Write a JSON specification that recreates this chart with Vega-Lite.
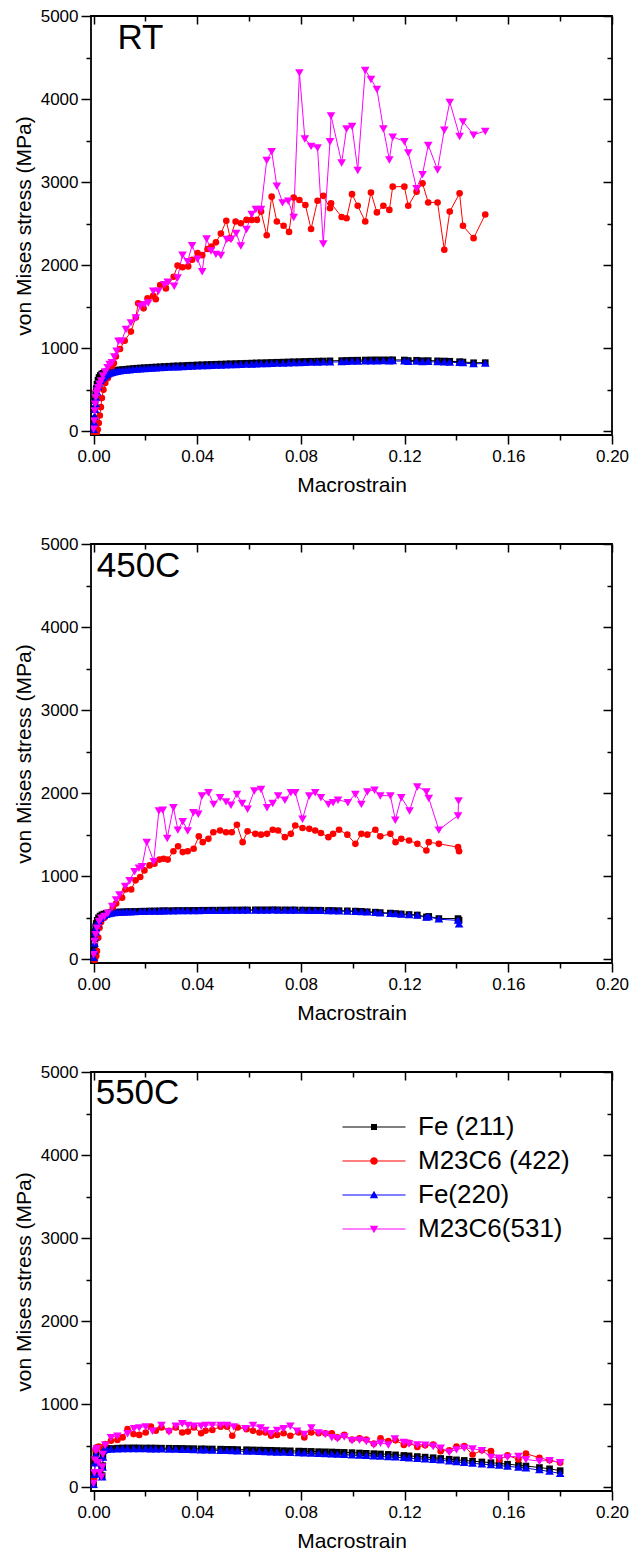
{
"$schema": "https://vega.github.io/schema/vega-lite/v6.json",
"background": "white",
"padding": {"left": 12, "top": 6, "right": 5, "bottom": 5},
"spacing": 38,
"config": {
 "font": "Liberation Sans",
 "view": {"stroke": "black", "strokeWidth": 1.8},
 "axis": {"grid": false, "domain": false, "tickColor": "black", "tickWidth": 1.5, "labelColor": "black", "titleColor": "black", "labelFont": "Liberation Sans", "titleFont": "Liberation Sans", "labelFontSize": 17, "titleFontSize": 21, "titleFontWeight": "normal", "labelFlush": false, "labelOverlap": false}
},
"resolve": {"scale": {"color": "independent", "shape": "independent"}},
"datasets": {
"rt": [
{"s":"Fe (211)","x":0,"y":20},{"s":"Fe (211)","x":0.0002,"y":150},{"s":"Fe (211)","x":0.0004,"y":270},{"s":"Fe (211)","x":0.0006,"y":370},{"s":"Fe (211)","x":0.0008,"y":450},{"s":"Fe (211)","x":0.001,"y":510},{"s":"Fe (211)","x":0.0013,"y":565},{"s":"Fe (211)","x":0.0017,"y":615},{"s":"Fe (211)","x":0.0021,"y":648},{"s":"Fe (211)","x":0.0026,"y":672},{"s":"Fe (211)","x":0.0031,"y":688},{"s":"Fe (211)","x":0.0036,"y":698},{"s":"Fe (211)","x":0.0042,"y":706},{"s":"Fe (211)","x":0.0049,"y":713},{"s":"Fe (211)","x":0.0056,"y":718},{"s":"Fe (211)","x":0.0064,"y":723},{"s":"Fe (211)","x":0.0072,"y":727},{"s":"Fe (211)","x":0.008,"y":731},{"s":"Fe (211)","x":0.009,"y":735},{"s":"Fe (211)","x":0.01,"y":739},{"s":"Fe (211)","x":0.0112,"y":743},{"s":"Fe (211)","x":0.0125,"y":747},{"s":"Fe (211)","x":0.0138,"y":751},{"s":"Fe (211)","x":0.0152,"y":755},{"s":"Fe (211)","x":0.0166,"y":759},{"s":"Fe (211)","x":0.018,"y":762},{"s":"Fe (211)","x":0.0195,"y":765},{"s":"Fe (211)","x":0.021,"y":768},{"s":"Fe (211)","x":0.0225,"y":771},{"s":"Fe (211)","x":0.024,"y":774},{"s":"Fe (211)","x":0.0257,"y":777},{"s":"Fe (211)","x":0.0273,"y":780},{"s":"Fe (211)","x":0.029,"y":783},{"s":"Fe (211)","x":0.0309,"y":786},{"s":"Fe (211)","x":0.0324,"y":788},{"s":"Fe (211)","x":0.0343,"y":791},{"s":"Fe (211)","x":0.0364,"y":794},{"s":"Fe (211)","x":0.038,"y":796},{"s":"Fe (211)","x":0.0401,"y":799},{"s":"Fe (211)","x":0.0419,"y":801},{"s":"Fe (211)","x":0.0438,"y":803},{"s":"Fe (211)","x":0.0455,"y":805},{"s":"Fe (211)","x":0.0472,"y":807},{"s":"Fe (211)","x":0.0491,"y":809},{"s":"Fe (211)","x":0.0512,"y":811},{"s":"Fe (211)","x":0.0528,"y":813},{"s":"Fe (211)","x":0.0549,"y":815},{"s":"Fe (211)","x":0.0568,"y":817},{"s":"Fe (211)","x":0.059,"y":819},{"s":"Fe (211)","x":0.061,"y":821},{"s":"Fe (211)","x":0.0628,"y":823},{"s":"Fe (211)","x":0.0646,"y":825},{"s":"Fe (211)","x":0.0668,"y":827},{"s":"Fe (211)","x":0.0687,"y":829},{"s":"Fe (211)","x":0.0707,"y":831},{"s":"Fe (211)","x":0.0731,"y":833},{"s":"Fe (211)","x":0.0753,"y":835},{"s":"Fe (211)","x":0.0772,"y":837},{"s":"Fe (211)","x":0.0794,"y":839},{"s":"Fe (211)","x":0.0815,"y":841},{"s":"Fe (211)","x":0.0839,"y":843},{"s":"Fe (211)","x":0.0864,"y":845},{"s":"Fe (211)","x":0.0886,"y":846},{"s":"Fe (211)","x":0.0912,"y":848},{"s":"Fe (211)","x":0.0957,"y":851},{"s":"Fe (211)","x":0.0976,"y":853},{"s":"Fe (211)","x":0.0997,"y":855},{"s":"Fe (211)","x":0.1019,"y":856},{"s":"Fe (211)","x":0.1048,"y":858},{"s":"Fe (211)","x":0.107,"y":859},{"s":"Fe (211)","x":0.1093,"y":860},{"s":"Fe (211)","x":0.1118,"y":860},{"s":"Fe (211)","x":0.1141,"y":859},{"s":"Fe (211)","x":0.1154,"y":860},{"s":"Fe (211)","x":0.1199,"y":858},{"s":"Fe (211)","x":0.1214,"y":852},{"s":"Fe (211)","x":0.1246,"y":855},{"s":"Fe (211)","x":0.1269,"y":850},{"s":"Fe (211)","x":0.1291,"y":851},{"s":"Fe (211)","x":0.1327,"y":848},{"s":"Fe (211)","x":0.1353,"y":846},{"s":"Fe (211)","x":0.1374,"y":843},{"s":"Fe (211)","x":0.1412,"y":838},{"s":"Fe (211)","x":0.1425,"y":834},{"s":"Fe (211)","x":0.1466,"y":825},{"s":"Fe (211)","x":0.1511,"y":826},
{"s":"M23C6 (422)","x":0,"y":-20},{"s":"M23C6 (422)","x":0.0006,"y":-40},{"s":"M23C6 (422)","x":0.0012,"y":-25},{"s":"M23C6 (422)","x":0.0016,"y":20},{"s":"M23C6 (422)","x":0.002,"y":100},{"s":"M23C6 (422)","x":0.0024,"y":190},{"s":"M23C6 (422)","x":0.0028,"y":290},{"s":"M23C6 (422)","x":0.0032,"y":400},{"s":"M23C6 (422)","x":0.0038,"y":500},{"s":"M23C6 (422)","x":0.0045,"y":580},{"s":"M23C6 (422)","x":0.0055,"y":640},{"s":"M23C6 (422)","x":0.0064,"y":700},{"s":"M23C6 (422)","x":0.0071,"y":780},{"s":"M23C6 (422)","x":0.0078,"y":820},{"s":"M23C6 (422)","x":0.0086,"y":900},{"s":"M23C6 (422)","x":0.0102,"y":990},{"s":"M23C6 (422)","x":0.012,"y":1090},{"s":"M23C6 (422)","x":0.0144,"y":1200},{"s":"M23C6 (422)","x":0.0163,"y":1370},{"s":"M23C6 (422)","x":0.0172,"y":1540},{"s":"M23C6 (422)","x":0.0193,"y":1480},{"s":"M23C6 (422)","x":0.0208,"y":1600},{"s":"M23C6 (422)","x":0.023,"y":1630},{"s":"M23C6 (422)","x":0.024,"y":1590},{"s":"M23C6 (422)","x":0.0257,"y":1760},{"s":"M23C6 (422)","x":0.0279,"y":1720},{"s":"M23C6 (422)","x":0.0309,"y":1860},{"s":"M23C6 (422)","x":0.0324,"y":1995},{"s":"M23C6 (422)","x":0.0343,"y":1975},{"s":"M23C6 (422)","x":0.0365,"y":1985},{"s":"M23C6 (422)","x":0.038,"y":2065},{"s":"M23C6 (422)","x":0.0401,"y":2145},{"s":"M23C6 (422)","x":0.0419,"y":2120},{"s":"M23C6 (422)","x":0.044,"y":2195},{"s":"M23C6 (422)","x":0.0455,"y":2225},{"s":"M23C6 (422)","x":0.0472,"y":2275},{"s":"M23C6 (422)","x":0.0491,"y":2380},{"s":"M23C6 (422)","x":0.0512,"y":2535},{"s":"M23C6 (422)","x":0.0527,"y":2325},{"s":"M23C6 (422)","x":0.0548,"y":2525},{"s":"M23C6 (422)","x":0.0568,"y":2505},{"s":"M23C6 (422)","x":0.059,"y":2545},{"s":"M23C6 (422)","x":0.061,"y":2545},{"s":"M23C6 (422)","x":0.063,"y":2545},{"s":"M23C6 (422)","x":0.0646,"y":2645},{"s":"M23C6 (422)","x":0.0668,"y":2360},{"s":"M23C6 (422)","x":0.0687,"y":2825},{"s":"M23C6 (422)","x":0.0707,"y":2525},{"s":"M23C6 (422)","x":0.0733,"y":2475},{"s":"M23C6 (422)","x":0.0754,"y":2400},{"s":"M23C6 (422)","x":0.0772,"y":2815},{"s":"M23C6 (422)","x":0.0794,"y":2785},{"s":"M23C6 (422)","x":0.0817,"y":2725},{"s":"M23C6 (422)","x":0.0839,"y":2435},{"s":"M23C6 (422)","x":0.0864,"y":2775},{"s":"M23C6 (422)","x":0.0886,"y":2835},{"s":"M23C6 (422)","x":0.0912,"y":2685},{"s":"M23C6 (422)","x":0.0916,"y":2745},{"s":"M23C6 (422)","x":0.0957,"y":2580},{"s":"M23C6 (422)","x":0.0976,"y":2565},{"s":"M23C6 (422)","x":0.0997,"y":2855},{"s":"M23C6 (422)","x":0.1019,"y":2715},{"s":"M23C6 (422)","x":0.1048,"y":2525},{"s":"M23C6 (422)","x":0.107,"y":2875},{"s":"M23C6 (422)","x":0.1093,"y":2635},{"s":"M23C6 (422)","x":0.1118,"y":2715},{"s":"M23C6 (422)","x":0.1141,"y":2665},{"s":"M23C6 (422)","x":0.1154,"y":2945},{"s":"M23C6 (422)","x":0.1199,"y":2945},{"s":"M23C6 (422)","x":0.1214,"y":2715},{"s":"M23C6 (422)","x":0.1246,"y":2885},{"s":"M23C6 (422)","x":0.1269,"y":2985},{"s":"M23C6 (422)","x":0.1291,"y":2755},{"s":"M23C6 (422)","x":0.1327,"y":2755},{"s":"M23C6 (422)","x":0.1353,"y":2185},{"s":"M23C6 (422)","x":0.1374,"y":2645},{"s":"M23C6 (422)","x":0.1412,"y":2865},{"s":"M23C6 (422)","x":0.1425,"y":2475},{"s":"M23C6 (422)","x":0.1466,"y":2325},{"s":"M23C6 (422)","x":0.1511,"y":2610},
{"s":"Fe(220)","x":0,"y":20},{"s":"Fe(220)","x":0.0002,"y":100},{"s":"Fe(220)","x":0.0004,"y":180},{"s":"Fe(220)","x":0.0006,"y":260},{"s":"Fe(220)","x":0.0008,"y":330},{"s":"Fe(220)","x":0.001,"y":400},{"s":"Fe(220)","x":0.0013,"y":470},{"s":"Fe(220)","x":0.0017,"y":535},{"s":"Fe(220)","x":0.0021,"y":575},{"s":"Fe(220)","x":0.0026,"y":605},{"s":"Fe(220)","x":0.0031,"y":628},{"s":"Fe(220)","x":0.0036,"y":645},{"s":"Fe(220)","x":0.0042,"y":660},{"s":"Fe(220)","x":0.0049,"y":675},{"s":"Fe(220)","x":0.0056,"y":687},{"s":"Fe(220)","x":0.0064,"y":697},{"s":"Fe(220)","x":0.0072,"y":705},{"s":"Fe(220)","x":0.008,"y":712},{"s":"Fe(220)","x":0.009,"y":718},{"s":"Fe(220)","x":0.01,"y":723},{"s":"Fe(220)","x":0.0112,"y":728},{"s":"Fe(220)","x":0.0125,"y":732},{"s":"Fe(220)","x":0.0138,"y":736},{"s":"Fe(220)","x":0.0152,"y":740},{"s":"Fe(220)","x":0.0166,"y":744},{"s":"Fe(220)","x":0.018,"y":747},{"s":"Fe(220)","x":0.0195,"y":750},{"s":"Fe(220)","x":0.021,"y":753},{"s":"Fe(220)","x":0.0225,"y":756},{"s":"Fe(220)","x":0.024,"y":759},{"s":"Fe(220)","x":0.0257,"y":762},{"s":"Fe(220)","x":0.0273,"y":765},{"s":"Fe(220)","x":0.029,"y":768},{"s":"Fe(220)","x":0.0309,"y":771},{"s":"Fe(220)","x":0.0324,"y":773},{"s":"Fe(220)","x":0.0343,"y":776},{"s":"Fe(220)","x":0.0364,"y":779},{"s":"Fe(220)","x":0.038,"y":781},{"s":"Fe(220)","x":0.0401,"y":784},{"s":"Fe(220)","x":0.0419,"y":786},{"s":"Fe(220)","x":0.0438,"y":788},{"s":"Fe(220)","x":0.0455,"y":790},{"s":"Fe(220)","x":0.0472,"y":792},{"s":"Fe(220)","x":0.0491,"y":794},{"s":"Fe(220)","x":0.0512,"y":796},{"s":"Fe(220)","x":0.0528,"y":798},{"s":"Fe(220)","x":0.0549,"y":800},{"s":"Fe(220)","x":0.0568,"y":802},{"s":"Fe(220)","x":0.059,"y":804},{"s":"Fe(220)","x":0.061,"y":806},{"s":"Fe(220)","x":0.0628,"y":808},{"s":"Fe(220)","x":0.0646,"y":810},{"s":"Fe(220)","x":0.0668,"y":812},{"s":"Fe(220)","x":0.0687,"y":814},{"s":"Fe(220)","x":0.0707,"y":816},{"s":"Fe(220)","x":0.0731,"y":818},{"s":"Fe(220)","x":0.0753,"y":820},{"s":"Fe(220)","x":0.0772,"y":822},{"s":"Fe(220)","x":0.0794,"y":824},{"s":"Fe(220)","x":0.0815,"y":826},{"s":"Fe(220)","x":0.0839,"y":828},{"s":"Fe(220)","x":0.0864,"y":830},{"s":"Fe(220)","x":0.0886,"y":831},{"s":"Fe(220)","x":0.0912,"y":833},{"s":"Fe(220)","x":0.0957,"y":836},{"s":"Fe(220)","x":0.0976,"y":838},{"s":"Fe(220)","x":0.0997,"y":840},{"s":"Fe(220)","x":0.1019,"y":841},{"s":"Fe(220)","x":0.1048,"y":843},{"s":"Fe(220)","x":0.107,"y":844},{"s":"Fe(220)","x":0.1093,"y":845},{"s":"Fe(220)","x":0.1118,"y":846},{"s":"Fe(220)","x":0.1141,"y":845},{"s":"Fe(220)","x":0.1154,"y":846},{"s":"Fe(220)","x":0.1199,"y":844},{"s":"Fe(220)","x":0.1214,"y":838},{"s":"Fe(220)","x":0.1246,"y":840},{"s":"Fe(220)","x":0.1269,"y":836},{"s":"Fe(220)","x":0.1291,"y":837},{"s":"Fe(220)","x":0.1327,"y":834},{"s":"Fe(220)","x":0.1353,"y":832},{"s":"Fe(220)","x":0.1374,"y":830},{"s":"Fe(220)","x":0.1412,"y":826},{"s":"Fe(220)","x":0.1425,"y":822},{"s":"Fe(220)","x":0.1466,"y":810},{"s":"Fe(220)","x":0.1511,"y":818},
{"s":"M23C6(531)","x":0,"y":30},{"s":"M23C6(531)","x":0.0002,"y":130},{"s":"M23C6(531)","x":0.0004,"y":250},{"s":"M23C6(531)","x":0.0006,"y":330},{"s":"M23C6(531)","x":0.0008,"y":410},{"s":"M23C6(531)","x":0.0011,"y":460},{"s":"M23C6(531)","x":0.0014,"y":490},{"s":"M23C6(531)","x":0.0018,"y":530},{"s":"M23C6(531)","x":0.0023,"y":570},{"s":"M23C6(531)","x":0.0029,"y":610},{"s":"M23C6(531)","x":0.0036,"y":670},{"s":"M23C6(531)","x":0.0045,"y":720},{"s":"M23C6(531)","x":0.0054,"y":770},{"s":"M23C6(531)","x":0.0062,"y":810},{"s":"M23C6(531)","x":0.0071,"y":830},{"s":"M23C6(531)","x":0.008,"y":900},{"s":"M23C6(531)","x":0.0089,"y":970},{"s":"M23C6(531)","x":0.0096,"y":1090},{"s":"M23C6(531)","x":0.0108,"y":1090},{"s":"M23C6(531)","x":0.0125,"y":1230},{"s":"M23C6(531)","x":0.0144,"y":1310},{"s":"M23C6(531)","x":0.0163,"y":1370},{"s":"M23C6(531)","x":0.018,"y":1510},{"s":"M23C6(531)","x":0.0196,"y":1530},{"s":"M23C6(531)","x":0.0211,"y":1550},{"s":"M23C6(531)","x":0.023,"y":1690},{"s":"M23C6(531)","x":0.025,"y":1690},{"s":"M23C6(531)","x":0.0273,"y":1770},{"s":"M23C6(531)","x":0.0286,"y":1800},{"s":"M23C6(531)","x":0.0311,"y":1750},{"s":"M23C6(531)","x":0.0324,"y":1850},{"s":"M23C6(531)","x":0.0343,"y":2125},{"s":"M23C6(531)","x":0.0363,"y":2045},{"s":"M23C6(531)","x":0.038,"y":2240},{"s":"M23C6(531)","x":0.0401,"y":2075},{"s":"M23C6(531)","x":0.0419,"y":1925},{"s":"M23C6(531)","x":0.0436,"y":2320},{"s":"M23C6(531)","x":0.0453,"y":2175},{"s":"M23C6(531)","x":0.0472,"y":2135},{"s":"M23C6(531)","x":0.0491,"y":2120},{"s":"M23C6(531)","x":0.0514,"y":2315},{"s":"M23C6(531)","x":0.053,"y":2315},{"s":"M23C6(531)","x":0.055,"y":2385},{"s":"M23C6(531)","x":0.0568,"y":2235},{"s":"M23C6(531)","x":0.059,"y":2435},{"s":"M23C6(531)","x":0.061,"y":2615},{"s":"M23C6(531)","x":0.0626,"y":2675},{"s":"M23C6(531)","x":0.0646,"y":2675},{"s":"M23C6(531)","x":0.0668,"y":3265},{"s":"M23C6(531)","x":0.0687,"y":3370},{"s":"M23C6(531)","x":0.0707,"y":2955},{"s":"M23C6(531)","x":0.0729,"y":2755},{"s":"M23C6(531)","x":0.0751,"y":2775},{"s":"M23C6(531)","x":0.0772,"y":2580},{"s":"M23C6(531)","x":0.0794,"y":4320},{"s":"M23C6(531)","x":0.0815,"y":3525},{"s":"M23C6(531)","x":0.0839,"y":3435},{"s":"M23C6(531)","x":0.0864,"y":3415},{"s":"M23C6(531)","x":0.0886,"y":2260},{"s":"M23C6(531)","x":0.0912,"y":3490},{"s":"M23C6(531)","x":0.0916,"y":3800},{"s":"M23C6(531)","x":0.0957,"y":3235},{"s":"M23C6(531)","x":0.0976,"y":3645},{"s":"M23C6(531)","x":0.0997,"y":3675},{"s":"M23C6(531)","x":0.1019,"y":3145},{"s":"M23C6(531)","x":0.1048,"y":4350},{"s":"M23C6(531)","x":0.107,"y":4240},{"s":"M23C6(531)","x":0.1093,"y":4120},{"s":"M23C6(531)","x":0.1118,"y":3645},{"s":"M23C6(531)","x":0.1141,"y":3270},{"s":"M23C6(531)","x":0.1154,"y":3545},{"s":"M23C6(531)","x":0.1199,"y":3490},{"s":"M23C6(531)","x":0.1214,"y":3355},{"s":"M23C6(531)","x":0.1246,"y":2925},{"s":"M23C6(531)","x":0.1269,"y":3095},{"s":"M23C6(531)","x":0.1291,"y":3445},{"s":"M23C6(531)","x":0.1327,"y":3150},{"s":"M23C6(531)","x":0.1353,"y":3630},{"s":"M23C6(531)","x":0.1374,"y":3965},{"s":"M23C6(531)","x":0.1412,"y":3555},{"s":"M23C6(531)","x":0.1425,"y":3730},{"s":"M23C6(531)","x":0.1466,"y":3570},{"s":"M23C6(531)","x":0.1511,"y":3615}
],
"c450": [
{"s":"Fe (211)","x":0,"y":20},{"s":"Fe (211)","x":0.0002,"y":140},{"s":"Fe (211)","x":0.0004,"y":250},{"s":"Fe (211)","x":0.0006,"y":330},{"s":"Fe (211)","x":0.0008,"y":390},{"s":"Fe (211)","x":0.001,"y":430},{"s":"Fe (211)","x":0.0014,"y":470},{"s":"Fe (211)","x":0.0019,"y":500},{"s":"Fe (211)","x":0.0025,"y":520},{"s":"Fe (211)","x":0.0032,"y":535},{"s":"Fe (211)","x":0.004,"y":545},{"s":"Fe (211)","x":0.0049,"y":553},{"s":"Fe (211)","x":0.0058,"y":558},{"s":"Fe (211)","x":0.0068,"y":562},{"s":"Fe (211)","x":0.0079,"y":565},{"s":"Fe (211)","x":0.009,"y":567},{"s":"Fe (211)","x":0.0102,"y":569},{"s":"Fe (211)","x":0.0115,"y":571},{"s":"Fe (211)","x":0.0128,"y":573},{"s":"Fe (211)","x":0.0142,"y":574},{"s":"Fe (211)","x":0.0158,"y":576},{"s":"Fe (211)","x":0.018,"y":578},{"s":"Fe (211)","x":0.0196,"y":579},{"s":"Fe (211)","x":0.0216,"y":581},{"s":"Fe (211)","x":0.0235,"y":582},{"s":"Fe (211)","x":0.0254,"y":583},{"s":"Fe (211)","x":0.027,"y":584},{"s":"Fe (211)","x":0.0286,"y":585},{"s":"Fe (211)","x":0.0308,"y":586},{"s":"Fe (211)","x":0.0326,"y":587},{"s":"Fe (211)","x":0.0344,"y":587},{"s":"Fe (211)","x":0.0363,"y":588},{"s":"Fe (211)","x":0.0386,"y":589},{"s":"Fe (211)","x":0.0406,"y":589},{"s":"Fe (211)","x":0.0421,"y":590},{"s":"Fe (211)","x":0.0443,"y":590},{"s":"Fe (211)","x":0.0462,"y":591},{"s":"Fe (211)","x":0.0488,"y":592},{"s":"Fe (211)","x":0.0511,"y":592},{"s":"Fe (211)","x":0.0533,"y":593},{"s":"Fe (211)","x":0.0553,"y":593},{"s":"Fe (211)","x":0.0575,"y":594},{"s":"Fe (211)","x":0.0594,"y":594},{"s":"Fe (211)","x":0.0624,"y":595},{"s":"Fe (211)","x":0.0646,"y":595},{"s":"Fe (211)","x":0.0669,"y":595},{"s":"Fe (211)","x":0.0691,"y":596},{"s":"Fe (211)","x":0.0712,"y":595},{"s":"Fe (211)","x":0.0738,"y":595},{"s":"Fe (211)","x":0.0761,"y":594},{"s":"Fe (211)","x":0.0778,"y":594},{"s":"Fe (211)","x":0.0806,"y":593},{"s":"Fe (211)","x":0.0832,"y":592},{"s":"Fe (211)","x":0.0855,"y":591},{"s":"Fe (211)","x":0.0877,"y":590},{"s":"Fe (211)","x":0.0906,"y":588},{"s":"Fe (211)","x":0.0924,"y":587},{"s":"Fe (211)","x":0.0947,"y":585},{"s":"Fe (211)","x":0.0979,"y":583},{"s":"Fe (211)","x":0.101,"y":580},{"s":"Fe (211)","x":0.1033,"y":577},{"s":"Fe (211)","x":0.1056,"y":572},{"s":"Fe (211)","x":0.1087,"y":567},{"s":"Fe (211)","x":0.1106,"y":562},{"s":"Fe (211)","x":0.1145,"y":556},{"s":"Fe (211)","x":0.1165,"y":551},{"s":"Fe (211)","x":0.1187,"y":546},{"s":"Fe (211)","x":0.1217,"y":539},{"s":"Fe (211)","x":0.1249,"y":533},{"s":"Fe (211)","x":0.1284,"y":510},{"s":"Fe (211)","x":0.1293,"y":516},{"s":"Fe (211)","x":0.1332,"y":490},{"s":"Fe (211)","x":0.1406,"y":490},{"s":"Fe (211)","x":0.141,"y":470},
{"s":"M23C6 (422)","x":0,"y":0},{"s":"M23C6 (422)","x":0.0005,"y":-10},{"s":"M23C6 (422)","x":0.001,"y":40},{"s":"M23C6 (422)","x":0.0013,"y":100},{"s":"M23C6 (422)","x":0.0018,"y":260},{"s":"M23C6 (422)","x":0.0023,"y":380},{"s":"M23C6 (422)","x":0.0029,"y":450},{"s":"M23C6 (422)","x":0.0042,"y":500},{"s":"M23C6 (422)","x":0.0055,"y":540},{"s":"M23C6 (422)","x":0.0074,"y":620},{"s":"M23C6 (422)","x":0.0087,"y":670},{"s":"M23C6 (422)","x":0.011,"y":740},{"s":"M23C6 (422)","x":0.0123,"y":840},{"s":"M23C6 (422)","x":0.0145,"y":840},{"s":"M23C6 (422)","x":0.0162,"y":950},{"s":"M23C6 (422)","x":0.018,"y":990},{"s":"M23C6 (422)","x":0.0196,"y":1070},{"s":"M23C6 (422)","x":0.0216,"y":1130},{"s":"M23C6 (422)","x":0.0235,"y":1150},{"s":"M23C6 (422)","x":0.0254,"y":1200},{"s":"M23C6 (422)","x":0.027,"y":1210},{"s":"M23C6 (422)","x":0.0286,"y":1200},{"s":"M23C6 (422)","x":0.0308,"y":1300},{"s":"M23C6 (422)","x":0.0326,"y":1360},{"s":"M23C6 (422)","x":0.0344,"y":1290},{"s":"M23C6 (422)","x":0.0363,"y":1300},{"s":"M23C6 (422)","x":0.0386,"y":1330},{"s":"M23C6 (422)","x":0.0406,"y":1480},{"s":"M23C6 (422)","x":0.0421,"y":1410},{"s":"M23C6 (422)","x":0.0443,"y":1450},{"s":"M23C6 (422)","x":0.0462,"y":1530},{"s":"M23C6 (422)","x":0.0488,"y":1550},{"s":"M23C6 (422)","x":0.0511,"y":1530},{"s":"M23C6 (422)","x":0.0533,"y":1530},{"s":"M23C6 (422)","x":0.0553,"y":1620},{"s":"M23C6 (422)","x":0.0575,"y":1410},{"s":"M23C6 (422)","x":0.0594,"y":1540},{"s":"M23C6 (422)","x":0.0624,"y":1510},{"s":"M23C6 (422)","x":0.0646,"y":1500},{"s":"M23C6 (422)","x":0.0669,"y":1510},{"s":"M23C6 (422)","x":0.0691,"y":1560},{"s":"M23C6 (422)","x":0.0712,"y":1550},{"s":"M23C6 (422)","x":0.0738,"y":1470},{"s":"M23C6 (422)","x":0.0761,"y":1510},{"s":"M23C6 (422)","x":0.0778,"y":1610},{"s":"M23C6 (422)","x":0.0806,"y":1580},{"s":"M23C6 (422)","x":0.0832,"y":1570},{"s":"M23C6 (422)","x":0.0855,"y":1550},{"s":"M23C6 (422)","x":0.0877,"y":1520},{"s":"M23C6 (422)","x":0.0906,"y":1470},{"s":"M23C6 (422)","x":0.0924,"y":1510},{"s":"M23C6 (422)","x":0.0947,"y":1560},{"s":"M23C6 (422)","x":0.0979,"y":1500},{"s":"M23C6 (422)","x":0.101,"y":1390},{"s":"M23C6 (422)","x":0.1033,"y":1510},{"s":"M23C6 (422)","x":0.1056,"y":1500},{"s":"M23C6 (422)","x":0.1087,"y":1560},{"s":"M23C6 (422)","x":0.1106,"y":1480},{"s":"M23C6 (422)","x":0.1145,"y":1510},{"s":"M23C6 (422)","x":0.1165,"y":1410},{"s":"M23C6 (422)","x":0.1187,"y":1450},{"s":"M23C6 (422)","x":0.1217,"y":1430},{"s":"M23C6 (422)","x":0.1249,"y":1390},{"s":"M23C6 (422)","x":0.1284,"y":1310},{"s":"M23C6 (422)","x":0.1293,"y":1410},{"s":"M23C6 (422)","x":0.1332,"y":1390},{"s":"M23C6 (422)","x":0.1406,"y":1350},{"s":"M23C6 (422)","x":0.141,"y":1300},
{"s":"Fe(220)","x":0,"y":20},{"s":"Fe(220)","x":0.0002,"y":100},{"s":"Fe(220)","x":0.0004,"y":190},{"s":"Fe(220)","x":0.0006,"y":265},{"s":"Fe(220)","x":0.0008,"y":325},{"s":"Fe(220)","x":0.001,"y":375},{"s":"Fe(220)","x":0.0014,"y":425},{"s":"Fe(220)","x":0.0019,"y":462},{"s":"Fe(220)","x":0.0025,"y":490},{"s":"Fe(220)","x":0.0032,"y":510},{"s":"Fe(220)","x":0.004,"y":525},{"s":"Fe(220)","x":0.0049,"y":537},{"s":"Fe(220)","x":0.0058,"y":546},{"s":"Fe(220)","x":0.0068,"y":553},{"s":"Fe(220)","x":0.0079,"y":557},{"s":"Fe(220)","x":0.009,"y":560},{"s":"Fe(220)","x":0.0102,"y":563},{"s":"Fe(220)","x":0.0115,"y":565},{"s":"Fe(220)","x":0.0128,"y":567},{"s":"Fe(220)","x":0.0142,"y":568},{"s":"Fe(220)","x":0.0158,"y":570},{"s":"Fe(220)","x":0.018,"y":572},{"s":"Fe(220)","x":0.0196,"y":573},{"s":"Fe(220)","x":0.0216,"y":575},{"s":"Fe(220)","x":0.0235,"y":576},{"s":"Fe(220)","x":0.0254,"y":577},{"s":"Fe(220)","x":0.027,"y":578},{"s":"Fe(220)","x":0.0286,"y":579},{"s":"Fe(220)","x":0.0308,"y":580},{"s":"Fe(220)","x":0.0326,"y":581},{"s":"Fe(220)","x":0.0344,"y":581},{"s":"Fe(220)","x":0.0363,"y":582},{"s":"Fe(220)","x":0.0386,"y":583},{"s":"Fe(220)","x":0.0406,"y":583},{"s":"Fe(220)","x":0.0421,"y":584},{"s":"Fe(220)","x":0.0443,"y":584},{"s":"Fe(220)","x":0.0462,"y":585},{"s":"Fe(220)","x":0.0488,"y":586},{"s":"Fe(220)","x":0.0511,"y":586},{"s":"Fe(220)","x":0.0533,"y":587},{"s":"Fe(220)","x":0.0553,"y":587},{"s":"Fe(220)","x":0.0575,"y":588},{"s":"Fe(220)","x":0.0594,"y":588},{"s":"Fe(220)","x":0.0624,"y":589},{"s":"Fe(220)","x":0.0646,"y":589},{"s":"Fe(220)","x":0.0669,"y":589},{"s":"Fe(220)","x":0.0691,"y":590},{"s":"Fe(220)","x":0.0712,"y":589},{"s":"Fe(220)","x":0.0738,"y":589},{"s":"Fe(220)","x":0.0761,"y":588},{"s":"Fe(220)","x":0.0778,"y":588},{"s":"Fe(220)","x":0.0806,"y":587},{"s":"Fe(220)","x":0.0832,"y":586},{"s":"Fe(220)","x":0.0855,"y":585},{"s":"Fe(220)","x":0.0877,"y":584},{"s":"Fe(220)","x":0.0906,"y":582},{"s":"Fe(220)","x":0.0924,"y":581},{"s":"Fe(220)","x":0.0947,"y":579},{"s":"Fe(220)","x":0.0979,"y":577},{"s":"Fe(220)","x":0.101,"y":574},{"s":"Fe(220)","x":0.1033,"y":571},{"s":"Fe(220)","x":0.1056,"y":566},{"s":"Fe(220)","x":0.1087,"y":561},{"s":"Fe(220)","x":0.1106,"y":556},{"s":"Fe(220)","x":0.1145,"y":550},{"s":"Fe(220)","x":0.1165,"y":545},{"s":"Fe(220)","x":0.1187,"y":540},{"s":"Fe(220)","x":0.1217,"y":533},{"s":"Fe(220)","x":0.1249,"y":527},{"s":"Fe(220)","x":0.1284,"y":503},{"s":"Fe(220)","x":0.1293,"y":510},{"s":"Fe(220)","x":0.1332,"y":482},{"s":"Fe(220)","x":0.1406,"y":468},{"s":"Fe(220)","x":0.141,"y":422},
{"s":"M23C6(531)","x":0,"y":60},{"s":"M23C6(531)","x":0.0003,"y":220},{"s":"M23C6(531)","x":0.0008,"y":300},{"s":"M23C6(531)","x":0.0013,"y":380},{"s":"M23C6(531)","x":0.0021,"y":460},{"s":"M23C6(531)","x":0.003,"y":500},{"s":"M23C6(531)","x":0.0042,"y":520},{"s":"M23C6(531)","x":0.0055,"y":560},{"s":"M23C6(531)","x":0.0072,"y":640},{"s":"M23C6(531)","x":0.0087,"y":720},{"s":"M23C6(531)","x":0.01,"y":780},{"s":"M23C6(531)","x":0.0122,"y":880},{"s":"M23C6(531)","x":0.0139,"y":950},{"s":"M23C6(531)","x":0.0158,"y":1060},{"s":"M23C6(531)","x":0.0175,"y":1100},{"s":"M23C6(531)","x":0.0187,"y":1120},{"s":"M23C6(531)","x":0.0205,"y":1410},{"s":"M23C6(531)","x":0.0232,"y":1180},{"s":"M23C6(531)","x":0.0252,"y":1790},{"s":"M23C6(531)","x":0.0267,"y":1800},{"s":"M23C6(531)","x":0.0284,"y":1460},{"s":"M23C6(531)","x":0.0308,"y":1830},{"s":"M23C6(531)","x":0.0325,"y":1560},{"s":"M23C6(531)","x":0.0344,"y":1660},{"s":"M23C6(531)","x":0.0363,"y":1550},{"s":"M23C6(531)","x":0.0385,"y":1770},{"s":"M23C6(531)","x":0.0404,"y":1750},{"s":"M23C6(531)","x":0.0418,"y":1970},{"s":"M23C6(531)","x":0.0443,"y":2010},{"s":"M23C6(531)","x":0.0463,"y":1870},{"s":"M23C6(531)","x":0.0488,"y":1950},{"s":"M23C6(531)","x":0.0511,"y":1900},{"s":"M23C6(531)","x":0.053,"y":1860},{"s":"M23C6(531)","x":0.0553,"y":1990},{"s":"M23C6(531)","x":0.0573,"y":1880},{"s":"M23C6(531)","x":0.0594,"y":1810},{"s":"M23C6(531)","x":0.062,"y":2030},{"s":"M23C6(531)","x":0.0646,"y":2050},{"s":"M23C6(531)","x":0.0669,"y":1830},{"s":"M23C6(531)","x":0.0691,"y":1880},{"s":"M23C6(531)","x":0.0712,"y":1970},{"s":"M23C6(531)","x":0.0738,"y":1920},{"s":"M23C6(531)","x":0.0761,"y":2010},{"s":"M23C6(531)","x":0.0778,"y":2010},{"s":"M23C6(531)","x":0.0806,"y":1690},{"s":"M23C6(531)","x":0.0832,"y":1970},{"s":"M23C6(531)","x":0.0855,"y":2010},{"s":"M23C6(531)","x":0.0877,"y":1950},{"s":"M23C6(531)","x":0.0906,"y":1870},{"s":"M23C6(531)","x":0.0924,"y":1890},{"s":"M23C6(531)","x":0.0943,"y":1920},{"s":"M23C6(531)","x":0.0981,"y":1890},{"s":"M23C6(531)","x":0.101,"y":1990},{"s":"M23C6(531)","x":0.1033,"y":1870},{"s":"M23C6(531)","x":0.1056,"y":2020},{"s":"M23C6(531)","x":0.1084,"y":2040},{"s":"M23C6(531)","x":0.1106,"y":1970},{"s":"M23C6(531)","x":0.1145,"y":1970},{"s":"M23C6(531)","x":0.1164,"y":1680},{"s":"M23C6(531)","x":0.1187,"y":1950},{"s":"M23C6(531)","x":0.1219,"y":1790},{"s":"M23C6(531)","x":0.1249,"y":2080},{"s":"M23C6(531)","x":0.1284,"y":2020},{"s":"M23C6(531)","x":0.1293,"y":1940},{"s":"M23C6(531)","x":0.1332,"y":1560},{"s":"M23C6(531)","x":0.1406,"y":1730},{"s":"M23C6(531)","x":0.1408,"y":1910}
],
"c550": [
{"s":"Fe (211)","x":0,"y":30},{"s":"Fe (211)","x":0.0003,"y":170},{"s":"Fe (211)","x":0.0006,"y":320},{"s":"Fe (211)","x":0.0009,"y":420},{"s":"Fe (211)","x":0.0015,"y":320},{"s":"Fe (211)","x":0.0025,"y":180},{"s":"Fe (211)","x":0.0033,"y":140},{"s":"Fe (211)","x":0.0035,"y":260},{"s":"Fe (211)","x":0.0036,"y":380},{"s":"Fe (211)","x":0.0038,"y":455},{"s":"Fe (211)","x":0.005,"y":465},{"s":"Fe (211)","x":0.0067,"y":467},{"s":"Fe (211)","x":0.0092,"y":471},{"s":"Fe (211)","x":0.0112,"y":473},{"s":"Fe (211)","x":0.0131,"y":474},{"s":"Fe (211)","x":0.0154,"y":475},{"s":"Fe (211)","x":0.0176,"y":474},{"s":"Fe (211)","x":0.0201,"y":473},{"s":"Fe (211)","x":0.0221,"y":473},{"s":"Fe (211)","x":0.024,"y":472},{"s":"Fe (211)","x":0.0262,"y":471},{"s":"Fe (211)","x":0.0291,"y":470},{"s":"Fe (211)","x":0.0317,"y":469},{"s":"Fe (211)","x":0.0342,"y":468},{"s":"Fe (211)","x":0.0364,"y":466},{"s":"Fe (211)","x":0.0387,"y":465},{"s":"Fe (211)","x":0.0415,"y":463},{"s":"Fe (211)","x":0.0432,"y":462},{"s":"Fe (211)","x":0.0458,"y":461},{"s":"Fe (211)","x":0.049,"y":459},{"s":"Fe (211)","x":0.0515,"y":457},{"s":"Fe (211)","x":0.0535,"y":456},{"s":"Fe (211)","x":0.0556,"y":454},{"s":"Fe (211)","x":0.059,"y":452},{"s":"Fe (211)","x":0.0615,"y":450},{"s":"Fe (211)","x":0.064,"y":448},{"s":"Fe (211)","x":0.0663,"y":446},{"s":"Fe (211)","x":0.0685,"y":445},{"s":"Fe (211)","x":0.0708,"y":443},{"s":"Fe (211)","x":0.0733,"y":441},{"s":"Fe (211)","x":0.0759,"y":439},{"s":"Fe (211)","x":0.0791,"y":436},{"s":"Fe (211)","x":0.0813,"y":434},{"s":"Fe (211)","x":0.084,"y":432},{"s":"Fe (211)","x":0.0868,"y":429},{"s":"Fe (211)","x":0.0894,"y":427},{"s":"Fe (211)","x":0.0919,"y":425},{"s":"Fe (211)","x":0.0941,"y":422},{"s":"Fe (211)","x":0.0967,"y":420},{"s":"Fe (211)","x":0.0997,"y":417},{"s":"Fe (211)","x":0.1026,"y":413},{"s":"Fe (211)","x":0.1052,"y":409},{"s":"Fe (211)","x":0.1081,"y":405},{"s":"Fe (211)","x":0.1107,"y":401},{"s":"Fe (211)","x":0.1137,"y":396},{"s":"Fe (211)","x":0.1165,"y":390},{"s":"Fe (211)","x":0.1197,"y":383},{"s":"Fe (211)","x":0.1217,"y":378},{"s":"Fe (211)","x":0.1249,"y":370},{"s":"Fe (211)","x":0.1279,"y":363},{"s":"Fe (211)","x":0.131,"y":356},{"s":"Fe (211)","x":0.1339,"y":347},{"s":"Fe (211)","x":0.1372,"y":338},{"s":"Fe (211)","x":0.14,"y":330},{"s":"Fe (211)","x":0.143,"y":323},{"s":"Fe (211)","x":0.1462,"y":314},{"s":"Fe (211)","x":0.1498,"y":305},{"s":"Fe (211)","x":0.1533,"y":296},{"s":"Fe (211)","x":0.1565,"y":287},{"s":"Fe (211)","x":0.1597,"y":278},{"s":"Fe (211)","x":0.1639,"y":265},{"s":"Fe (211)","x":0.1668,"y":256},{"s":"Fe (211)","x":0.172,"y":238},{"s":"Fe (211)","x":0.1759,"y":222},{"s":"Fe (211)","x":0.18,"y":200},
{"s":"M23C6 (422)","x":0.0002,"y":100},{"s":"M23C6 (422)","x":0.0005,"y":350},{"s":"M23C6 (422)","x":0.0008,"y":450},{"s":"M23C6 (422)","x":0.0012,"y":480},{"s":"M23C6 (422)","x":0.002,"y":490},{"s":"M23C6 (422)","x":0.003,"y":480},{"s":"M23C6 (422)","x":0.0045,"y":520},{"s":"M23C6 (422)","x":0.0067,"y":560},{"s":"M23C6 (422)","x":0.0092,"y":570},{"s":"M23C6 (422)","x":0.0112,"y":600},{"s":"M23C6 (422)","x":0.0131,"y":700},{"s":"M23C6 (422)","x":0.0154,"y":640},{"s":"M23C6 (422)","x":0.0176,"y":630},{"s":"M23C6 (422)","x":0.0201,"y":660},{"s":"M23C6 (422)","x":0.0221,"y":730},{"s":"M23C6 (422)","x":0.024,"y":680},{"s":"M23C6 (422)","x":0.0262,"y":720},{"s":"M23C6 (422)","x":0.0291,"y":680},{"s":"M23C6 (422)","x":0.0317,"y":720},{"s":"M23C6 (422)","x":0.0342,"y":660},{"s":"M23C6 (422)","x":0.0364,"y":670},{"s":"M23C6 (422)","x":0.0387,"y":720},{"s":"M23C6 (422)","x":0.0415,"y":650},{"s":"M23C6 (422)","x":0.0432,"y":680},{"s":"M23C6 (422)","x":0.0458,"y":690},{"s":"M23C6 (422)","x":0.049,"y":730},{"s":"M23C6 (422)","x":0.0515,"y":730},{"s":"M23C6 (422)","x":0.0535,"y":620},{"s":"M23C6 (422)","x":0.0556,"y":720},{"s":"M23C6 (422)","x":0.059,"y":700},{"s":"M23C6 (422)","x":0.0615,"y":680},{"s":"M23C6 (422)","x":0.064,"y":660},{"s":"M23C6 (422)","x":0.0663,"y":660},{"s":"M23C6 (422)","x":0.0685,"y":620},{"s":"M23C6 (422)","x":0.0708,"y":630},{"s":"M23C6 (422)","x":0.0733,"y":650},{"s":"M23C6 (422)","x":0.0759,"y":620},{"s":"M23C6 (422)","x":0.0791,"y":660},{"s":"M23C6 (422)","x":0.0813,"y":600},{"s":"M23C6 (422)","x":0.084,"y":660},{"s":"M23C6 (422)","x":0.0868,"y":650},{"s":"M23C6 (422)","x":0.0894,"y":650},{"s":"M23C6 (422)","x":0.0919,"y":650},{"s":"M23C6 (422)","x":0.0941,"y":600},{"s":"M23C6 (422)","x":0.0967,"y":630},{"s":"M23C6 (422)","x":0.0997,"y":575},{"s":"M23C6 (422)","x":0.1026,"y":590},{"s":"M23C6 (422)","x":0.1052,"y":575},{"s":"M23C6 (422)","x":0.1081,"y":525},{"s":"M23C6 (422)","x":0.1107,"y":590},{"s":"M23C6 (422)","x":0.1137,"y":555},{"s":"M23C6 (422)","x":0.1165,"y":565},{"s":"M23C6 (422)","x":0.1197,"y":510},{"s":"M23C6 (422)","x":0.1217,"y":535},{"s":"M23C6 (422)","x":0.1249,"y":485},{"s":"M23C6 (422)","x":0.1279,"y":505},{"s":"M23C6 (422)","x":0.131,"y":515},{"s":"M23C6 (422)","x":0.1339,"y":435},{"s":"M23C6 (422)","x":0.1372,"y":445},{"s":"M23C6 (422)","x":0.14,"y":490},{"s":"M23C6 (422)","x":0.143,"y":495},{"s":"M23C6 (422)","x":0.1462,"y":395},{"s":"M23C6 (422)","x":0.1498,"y":445},{"s":"M23C6 (422)","x":0.1533,"y":435},{"s":"M23C6 (422)","x":0.1565,"y":330},{"s":"M23C6 (422)","x":0.1597,"y":385},{"s":"M23C6 (422)","x":0.1639,"y":335},{"s":"M23C6 (422)","x":0.1668,"y":405},{"s":"M23C6 (422)","x":0.172,"y":355},{"s":"M23C6 (422)","x":0.1759,"y":325},{"s":"M23C6 (422)","x":0.18,"y":295},
{"s":"Fe(220)","x":0,"y":30},{"s":"Fe(220)","x":0.0003,"y":150},{"s":"Fe(220)","x":0.0006,"y":290},{"s":"Fe(220)","x":0.0009,"y":390},{"s":"Fe(220)","x":0.0015,"y":300},{"s":"Fe(220)","x":0.0025,"y":160},{"s":"Fe(220)","x":0.0033,"y":120},{"s":"Fe(220)","x":0.0035,"y":240},{"s":"Fe(220)","x":0.0036,"y":360},{"s":"Fe(220)","x":0.0038,"y":440},{"s":"Fe(220)","x":0.005,"y":452},{"s":"Fe(220)","x":0.0067,"y":456},{"s":"Fe(220)","x":0.0092,"y":460},{"s":"Fe(220)","x":0.0112,"y":462},{"s":"Fe(220)","x":0.0131,"y":463},{"s":"Fe(220)","x":0.0154,"y":463},{"s":"Fe(220)","x":0.0176,"y":462},{"s":"Fe(220)","x":0.0201,"y":461},{"s":"Fe(220)","x":0.0221,"y":460},{"s":"Fe(220)","x":0.024,"y":459},{"s":"Fe(220)","x":0.0262,"y":458},{"s":"Fe(220)","x":0.0291,"y":456},{"s":"Fe(220)","x":0.0317,"y":455},{"s":"Fe(220)","x":0.0342,"y":453},{"s":"Fe(220)","x":0.0364,"y":451},{"s":"Fe(220)","x":0.0387,"y":449},{"s":"Fe(220)","x":0.0415,"y":447},{"s":"Fe(220)","x":0.0432,"y":446},{"s":"Fe(220)","x":0.0458,"y":444},{"s":"Fe(220)","x":0.049,"y":441},{"s":"Fe(220)","x":0.0515,"y":439},{"s":"Fe(220)","x":0.0535,"y":437},{"s":"Fe(220)","x":0.0556,"y":435},{"s":"Fe(220)","x":0.059,"y":432},{"s":"Fe(220)","x":0.0615,"y":430},{"s":"Fe(220)","x":0.064,"y":427},{"s":"Fe(220)","x":0.0663,"y":425},{"s":"Fe(220)","x":0.0685,"y":423},{"s":"Fe(220)","x":0.0708,"y":420},{"s":"Fe(220)","x":0.0733,"y":418},{"s":"Fe(220)","x":0.0759,"y":415},{"s":"Fe(220)","x":0.0791,"y":412},{"s":"Fe(220)","x":0.0813,"y":409},{"s":"Fe(220)","x":0.084,"y":406},{"s":"Fe(220)","x":0.0868,"y":403},{"s":"Fe(220)","x":0.0894,"y":400},{"s":"Fe(220)","x":0.0919,"y":397},{"s":"Fe(220)","x":0.0941,"y":394},{"s":"Fe(220)","x":0.0967,"y":391},{"s":"Fe(220)","x":0.0997,"y":387},{"s":"Fe(220)","x":0.1026,"y":383},{"s":"Fe(220)","x":0.1052,"y":379},{"s":"Fe(220)","x":0.1081,"y":375},{"s":"Fe(220)","x":0.1107,"y":371},{"s":"Fe(220)","x":0.1137,"y":366},{"s":"Fe(220)","x":0.1165,"y":361},{"s":"Fe(220)","x":0.1197,"y":355},{"s":"Fe(220)","x":0.1217,"y":350},{"s":"Fe(220)","x":0.1249,"y":344},{"s":"Fe(220)","x":0.1279,"y":338},{"s":"Fe(220)","x":0.131,"y":332},{"s":"Fe(220)","x":0.1339,"y":325},{"s":"Fe(220)","x":0.1372,"y":315},{"s":"Fe(220)","x":0.14,"y":305},{"s":"Fe(220)","x":0.143,"y":297},{"s":"Fe(220)","x":0.1462,"y":288},{"s":"Fe(220)","x":0.1498,"y":279},{"s":"Fe(220)","x":0.1533,"y":270},{"s":"Fe(220)","x":0.1565,"y":262},{"s":"Fe(220)","x":0.1597,"y":252},{"s":"Fe(220)","x":0.1639,"y":240},{"s":"Fe(220)","x":0.1668,"y":230},{"s":"Fe(220)","x":0.172,"y":208},{"s":"Fe(220)","x":0.1759,"y":190},{"s":"Fe(220)","x":0.18,"y":165},
{"s":"M23C6(531)","x":0,"y":50},{"s":"M23C6(531)","x":0.0003,"y":180},{"s":"M23C6(531)","x":0.0006,"y":330},{"s":"M23C6(531)","x":0.0009,"y":440},{"s":"M23C6(531)","x":0.0013,"y":470},{"s":"M23C6(531)","x":0.0018,"y":300},{"s":"M23C6(531)","x":0.0024,"y":180},{"s":"M23C6(531)","x":0.003,"y":130},{"s":"M23C6(531)","x":0.0034,"y":250},{"s":"M23C6(531)","x":0.0036,"y":400},{"s":"M23C6(531)","x":0.0045,"y":510},{"s":"M23C6(531)","x":0.0067,"y":600},{"s":"M23C6(531)","x":0.0092,"y":620},{"s":"M23C6(531)","x":0.0131,"y":650},{"s":"M23C6(531)","x":0.0156,"y":710},{"s":"M23C6(531)","x":0.0176,"y":720},{"s":"M23C6(531)","x":0.0201,"y":730},{"s":"M23C6(531)","x":0.0227,"y":680},{"s":"M23C6(531)","x":0.0262,"y":750},{"s":"M23C6(531)","x":0.0291,"y":670},{"s":"M23C6(531)","x":0.0317,"y":740},{"s":"M23C6(531)","x":0.0342,"y":770},{"s":"M23C6(531)","x":0.0364,"y":750},{"s":"M23C6(531)","x":0.0387,"y":740},{"s":"M23C6(531)","x":0.0415,"y":740},{"s":"M23C6(531)","x":0.0432,"y":750},{"s":"M23C6(531)","x":0.0458,"y":750},{"s":"M23C6(531)","x":0.049,"y":750},{"s":"M23C6(531)","x":0.0515,"y":750},{"s":"M23C6(531)","x":0.0541,"y":730},{"s":"M23C6(531)","x":0.0586,"y":710},{"s":"M23C6(531)","x":0.0615,"y":750},{"s":"M23C6(531)","x":0.0644,"y":720},{"s":"M23C6(531)","x":0.0663,"y":690},{"s":"M23C6(531)","x":0.0685,"y":650},{"s":"M23C6(531)","x":0.0708,"y":690},{"s":"M23C6(531)","x":0.0733,"y":710},{"s":"M23C6(531)","x":0.0759,"y":740},{"s":"M23C6(531)","x":0.0785,"y":680},{"s":"M23C6(531)","x":0.0813,"y":640},{"s":"M23C6(531)","x":0.084,"y":720},{"s":"M23C6(531)","x":0.0868,"y":660},{"s":"M23C6(531)","x":0.0894,"y":640},{"s":"M23C6(531)","x":0.0919,"y":600},{"s":"M23C6(531)","x":0.0941,"y":590},{"s":"M23C6(531)","x":0.0967,"y":610},{"s":"M23C6(531)","x":0.0997,"y":565},{"s":"M23C6(531)","x":0.1026,"y":570},{"s":"M23C6(531)","x":0.1052,"y":555},{"s":"M23C6(531)","x":0.1081,"y":515},{"s":"M23C6(531)","x":0.1107,"y":535},{"s":"M23C6(531)","x":0.1137,"y":515},{"s":"M23C6(531)","x":0.1162,"y":585},{"s":"M23C6(531)","x":0.1197,"y":545},{"s":"M23C6(531)","x":0.1217,"y":525},{"s":"M23C6(531)","x":0.1249,"y":515},{"s":"M23C6(531)","x":0.1279,"y":510},{"s":"M23C6(531)","x":0.131,"y":495},{"s":"M23C6(531)","x":0.1339,"y":475},{"s":"M23C6(531)","x":0.1372,"y":425},{"s":"M23C6(531)","x":0.14,"y":455},{"s":"M23C6(531)","x":0.143,"y":475},{"s":"M23C6(531)","x":0.1462,"y":465},{"s":"M23C6(531)","x":0.1498,"y":445},{"s":"M23C6(531)","x":0.1533,"y":365},{"s":"M23C6(531)","x":0.1565,"y":355},{"s":"M23C6(531)","x":0.1597,"y":365},{"s":"M23C6(531)","x":0.1639,"y":375},{"s":"M23C6(531)","x":0.1668,"y":335},{"s":"M23C6(531)","x":0.172,"y":315},{"s":"M23C6(531)","x":0.1759,"y":325},{"s":"M23C6(531)","x":0.18,"y":300}
]
},
"vconcat": [
{
 "width": 521, "height": 419,
 "data": {"name": "rt"},
 "layer": [
  {"mark": {"type": "line", "strokeWidth": 1, "clip": true},
   "encoding": {
    "x": {"field": "x", "type": "quantitative", "scale": {"domain": [-0.001, 0.2], "nice": false, "zero": false}, "axis": {"orient": "bottom", "title": "Macrostrain", "values": [0,0.02,0.04,0.06,0.08,0.1,0.12,0.14,0.16,0.18,0.2], "labelExpr": "round(datum.value*100)%4==0 ? format(datum.value,'.2f') : ''", "tickSize": {"condition": {"test": "round(datum.value*100)%4==0", "value": 9}, "value": 5}, "labelPadding": 4, "titlePadding": 10}},
    "y": {"field": "y", "type": "quantitative", "scale": {"domain": [-45, 5000], "nice": false, "zero": false}, "axis": {"orient": "left", "title": "von Mises stress (MPa)", "values": [0,500,1000,1500,2000,2500,3000,3500,4000,4500,5000], "labelExpr": "datum.value%1000==0 ? format(datum.value,'d') : ''", "tickSize": {"condition": {"test": "datum.value%1000==0", "value": 10}, "value": 5}, "labelPadding": 3, "titlePadding": 6}},
    "color": {"field": "s", "type": "nominal", "scale": {"domain": ["Fe (211)","M23C6 (422)","Fe(220)","M23C6(531)"], "range": ["#000000","#ff0000","#0000ff","#ff00ff"]}, "legend": null}
   }},
  {"mark": {"type": "point", "filled": true, "opacity": 1, "size": 44, "clip": true},
   "encoding": {
    "x": {"field": "x", "type": "quantitative", "axis": {"orient": "top", "title": null, "labels": false, "values": [0,0.02,0.04,0.06,0.08,0.1,0.12,0.14,0.16,0.18,0.2], "tickSize": {"condition": {"test": "round(datum.value*100)%4==0", "value": -8}, "value": -5}}},
    "y": {"field": "y", "type": "quantitative", "axis": {"orient": "right", "title": null, "labels": false, "values": [0,500,1000,1500,2000,2500,3000,3500,4000,4500,5000], "tickSize": {"condition": {"test": "datum.value%1000==0", "value": -9}, "value": -5}}},
    "color": {"field": "s", "type": "nominal", "legend": null},
    "shape": {"field": "s", "type": "nominal", "scale": {"domain": ["Fe (211)","M23C6 (422)","Fe(220)","M23C6(531)"], "range": ["square","circle","M0,-1.25L1.3,1L-1.3,1Z","M0,1.25L-1.3,-1L1.3,-1Z"]}, "legend": null}
   }},
  {"data": {"values": [{"label": "RT"}]},
   "mark": {"type": "text", "align": "left", "baseline": "alphabetic", "fontSize": 35, "font": "Liberation Sans", "color": "black"},
   "encoding": {"x": {"datum": 0.0092, "type": "quantitative", "axis": null}, "y": {"datum": 4605, "type": "quantitative", "axis": null}, "text": {"field": "label"}}}
 ]
},
{
 "width": 521, "height": 419,
 "data": {"name": "c450"},
 "layer": [
  {"mark": {"type": "line", "strokeWidth": 1, "clip": true},
   "encoding": {
    "x": {"field": "x", "type": "quantitative", "scale": {"domain": [-0.001, 0.2], "nice": false, "zero": false}, "axis": {"orient": "bottom", "title": "Macrostrain", "values": [0,0.02,0.04,0.06,0.08,0.1,0.12,0.14,0.16,0.18,0.2], "labelExpr": "round(datum.value*100)%4==0 ? format(datum.value,'.2f') : ''", "tickSize": {"condition": {"test": "round(datum.value*100)%4==0", "value": 9}, "value": 5}, "labelPadding": 4, "titlePadding": 10}},
    "y": {"field": "y", "type": "quantitative", "scale": {"domain": [-45, 5000], "nice": false, "zero": false}, "axis": {"orient": "left", "title": "von Mises stress (MPa)", "values": [0,500,1000,1500,2000,2500,3000,3500,4000,4500,5000], "labelExpr": "datum.value%1000==0 ? format(datum.value,'d') : ''", "tickSize": {"condition": {"test": "datum.value%1000==0", "value": 10}, "value": 5}, "labelPadding": 3, "titlePadding": 6}},
    "color": {"field": "s", "type": "nominal", "scale": {"domain": ["Fe (211)","M23C6 (422)","Fe(220)","M23C6(531)"], "range": ["#000000","#ff0000","#0000ff","#ff00ff"]}, "legend": null}
   }},
  {"mark": {"type": "point", "filled": true, "opacity": 1, "size": 44, "clip": true},
   "encoding": {
    "x": {"field": "x", "type": "quantitative", "axis": {"orient": "top", "title": null, "labels": false, "values": [0,0.02,0.04,0.06,0.08,0.1,0.12,0.14,0.16,0.18,0.2], "tickSize": {"condition": {"test": "round(datum.value*100)%4==0", "value": -8}, "value": -5}}},
    "y": {"field": "y", "type": "quantitative", "axis": {"orient": "right", "title": null, "labels": false, "values": [0,500,1000,1500,2000,2500,3000,3500,4000,4500,5000], "tickSize": {"condition": {"test": "datum.value%1000==0", "value": -9}, "value": -5}}},
    "color": {"field": "s", "type": "nominal", "legend": null},
    "shape": {"field": "s", "type": "nominal", "scale": {"domain": ["Fe (211)","M23C6 (422)","Fe(220)","M23C6(531)"], "range": ["square","circle","M0,-1.25L1.3,1L-1.3,1Z","M0,1.25L-1.3,-1L1.3,-1Z"]}, "legend": null}
   }},
  {"data": {"values": [{"label": "450C"}]},
   "mark": {"type": "text", "align": "left", "baseline": "alphabetic", "fontSize": 35, "font": "Liberation Sans", "color": "black"},
   "encoding": {"x": {"datum": 0.0012, "type": "quantitative", "axis": null}, "y": {"datum": 4600, "type": "quantitative", "axis": null}, "text": {"field": "label"}}}
 ]
},
{
 "width": 521, "height": 419,
 "data": {"name": "c550"},
 "resolve": {"scale": {"color": "independent", "shape": "independent"}},
 "layer": [
  {"mark": {"type": "line", "strokeWidth": 1, "clip": true},
   "encoding": {
    "x": {"field": "x", "type": "quantitative", "scale": {"domain": [-0.001, 0.2], "nice": false, "zero": false}, "axis": {"orient": "bottom", "title": "Macrostrain", "values": [0,0.02,0.04,0.06,0.08,0.1,0.12,0.14,0.16,0.18,0.2], "labelExpr": "round(datum.value*100)%4==0 ? format(datum.value,'.2f') : ''", "tickSize": {"condition": {"test": "round(datum.value*100)%4==0", "value": 9}, "value": 5}, "labelPadding": 4, "titlePadding": 10}},
    "y": {"field": "y", "type": "quantitative", "scale": {"domain": [-45, 5000], "nice": false, "zero": false}, "axis": {"orient": "left", "title": "von Mises stress (MPa)", "values": [0,500,1000,1500,2000,2500,3000,3500,4000,4500,5000], "labelExpr": "datum.value%1000==0 ? format(datum.value,'d') : ''", "tickSize": {"condition": {"test": "datum.value%1000==0", "value": 10}, "value": 5}, "labelPadding": 3, "titlePadding": 6}},
    "color": {"field": "s", "type": "nominal", "scale": {"domain": ["Fe (211)","M23C6 (422)","Fe(220)","M23C6(531)"], "range": ["#000000","#ff0000","#0000ff","#ff00ff"]}, "legend": null}
   }},
  {"mark": {"type": "point", "filled": true, "opacity": 1, "size": 44, "clip": true},
   "encoding": {
    "x": {"field": "x", "type": "quantitative", "axis": {"orient": "top", "title": null, "labels": false, "values": [0,0.02,0.04,0.06,0.08,0.1,0.12,0.14,0.16,0.18,0.2], "tickSize": {"condition": {"test": "round(datum.value*100)%4==0", "value": -8}, "value": -5}}},
    "y": {"field": "y", "type": "quantitative", "axis": {"orient": "right", "title": null, "labels": false, "values": [0,500,1000,1500,2000,2500,3000,3500,4000,4500,5000], "tickSize": {"condition": {"test": "datum.value%1000==0", "value": -9}, "value": -5}}},
    "color": {"field": "s", "type": "nominal", "scale": {"domain": ["Fe (211)","M23C6 (422)","Fe(220)","M23C6(531)"], "range": ["#000000","#ff0000","#0000ff","#ff00ff"]}, "legend": null},
    "shape": {"field": "s", "type": "nominal", "scale": {"domain": ["Fe (211)","M23C6 (422)","Fe(220)","M23C6(531)"], "range": ["square","circle","M0,-1.25L1.3,1L-1.3,1Z","M0,1.25L-1.3,-1L1.3,-1Z"]}, "legend": null}
   }},
  {"data": {"values": [{"label": "550C"}]},
   "mark": {"type": "text", "align": "left", "baseline": "alphabetic", "fontSize": 35, "font": "Liberation Sans", "color": "black"},
   "encoding": {"x": {"datum": 0.0008, "type": "quantitative", "axis": null}, "y": {"datum": 4610, "type": "quantitative", "axis": null}, "text": {"field": "label"}}},
  {"transform": [{"filter": "false"}],
   "mark": {"type": "point", "filled": true, "opacity": 1},
   "encoding": {
    "x": {"field": "x", "type": "quantitative", "axis": null},
    "y": {"field": "y", "type": "quantitative", "axis": null},
    "color": {"field": "s", "type": "nominal", "scale": {"domain": ["Fe (211)","M23C6 (422)","Fe(220)","M23C6(531)"], "range": ["#000000","#ff0000","#0000ff","#ff00ff"]},
      "legend": {"orient": "top-right", "offset": 42, "title": null, "labelFontSize": 26, "labelFont": "Liberation Sans", "labelColor": "black", "symbolSize": 400, "labelOffset": 31, "rowPadding": 8, "padding": 0, "symbolStrokeWidth": 0, "labelLimit": 400}},
    "shape": {"field": "s", "type": "nominal", "scale": {"domain": ["Fe (211)","M23C6 (422)","Fe(220)","M23C6(531)"], "range": ["M-3.15,-0.06H3.15V0.06H-3.15ZM-0.3,-0.3H0.3V0.3H-0.3Z","M-3.15,-0.06H3.15V0.06H-3.15ZM-0.38,0A0.38,0.38 0 1,1 0.38,0A0.38,0.38 0 1,1 -0.38,0Z","M-3.15,-0.06H3.15V0.06H-3.15ZM0,-0.42L0.42,0.32L-0.42,0.32Z","M-3.15,-0.06H3.15V0.06H-3.15ZM0,0.42L-0.42,-0.32L0.42,-0.32Z"]},
      "legend": {"orient": "top-right", "offset": 42, "title": null, "labelFontSize": 26, "labelFont": "Liberation Sans", "labelColor": "black", "symbolSize": 400, "labelOffset": 31, "rowPadding": 8, "padding": 0, "symbolStrokeWidth": 0, "labelLimit": 400}}
   }}
 ]
}
]
}
